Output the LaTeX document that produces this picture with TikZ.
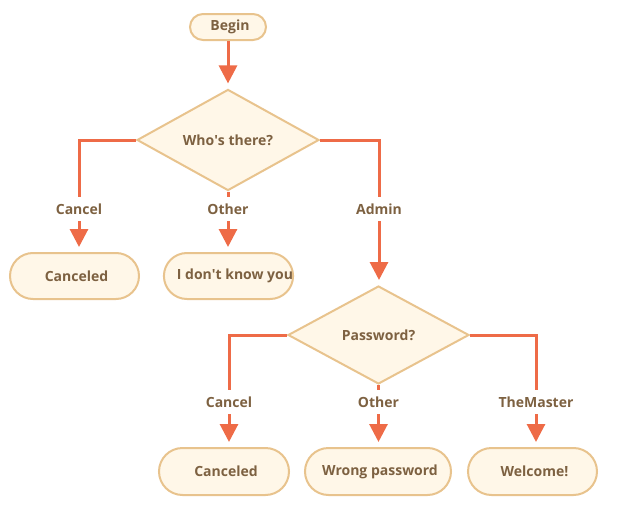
\documentclass[tikz,border=0pt]{standalone}
\usepackage{fontspec}
\setmainfont{Open Sans}
\usetikzlibrary{arrows.meta,shapes.geometric}
\definecolor{ink}{HTML}{7D6141}
\definecolor{rim}{HTML}{E8C38D}
\definecolor{pale}{HTML}{FFF7E8}
\definecolor{wirecol}{HTML}{EE6B47}
\tikzset{
  txt/.style={font=\fontsize{14}{16}\selectfont\bfseries, text=ink},
  term/.style={txt, draw=rim, fill=pale, line width=2pt, inner sep=0pt,
    minimum height=46pt, rounded corners=23pt, execute at begin node=\hspace{4pt}},
  choice/.style={txt, shape=diamond, draw=rim, fill=pale, line width=2pt,
    inner sep=0pt, minimum width=182pt, minimum height=98pt},
  lbl/.style={txt, inner sep=0pt, minimum height=24pt},
  wire/.style={draw=wirecol, line width=3pt},
  go/.style={wire, -{Triangle[width=18pt,length=18pt]}, shorten >=5pt},
}
\begin{document}
\begin{tikzpicture}[x=1pt,y=-1pt]
\useasboundingbox (0,0) rectangle (638,514);

% start
\node[term, minimum width=76pt, minimum height=26pt, rounded corners=13pt,
  execute at begin node={}] (begin) at (228,27) {Begin};

% first question and its answers
\node[choice] (who) at (228,140) {Who\textquotesingle s there?};
\node[term, minimum width=129pt] (cancelA) at (74.5,276) {Canceled};
\node[term, minimum width=129pt, execute at begin node=\hspace{9pt}] (unknown) at (228.5,276) {I don\textquotesingle t know you};

\node[lbl] (lcancelA) at (79,209) {Cancel};
\node[lbl] (lotherA) at (228,209) {Other};
\node[lbl] (ladmin) at (379,209) {Admin};

% second question and its answers
\node[choice, minimum width=181pt] (pw) at (378.5,335) {Password?};
\node[term, minimum width=130pt, minimum height=47pt, rounded corners=23.5pt] (cancelB) at (224,471.5) {Canceled};
\node[term, minimum width=146pt, minimum height=47pt, rounded corners=23.5pt] (wrong) at (378,471.5) {Wrong password};
\node[term, minimum width=129pt, minimum height=47pt, rounded corners=23.5pt] (welcome) at (532.5,471.5) {Welcome!};

\node[lbl] (lcancelB) at (229,402) {Cancel};
\node[lbl] (lotherB) at (378.5,402) {Other};
\node[lbl] (lmaster) at (536,402) {TheMaster};

% connectors
\draw[go] (begin.south) -- (who.north);

\draw[wire] (who.west) -| (lcancelA.north);
\draw[go] (lcancelA.south) -- (lcancelA.south |- cancelA.north);
\draw[wire] (who.south) -- (lotherA.north);
\draw[go] (lotherA.south) -- (lotherA.south |- unknown.north);
\draw[wire] (who.east) -| (ladmin.north);
\draw[go] (ladmin.south) -- (ladmin.south |- pw.north);

\draw[wire] (pw.west) -| (lcancelB.north);
\draw[go] (lcancelB.south) -- (lcancelB.south |- cancelB.north);
\draw[wire] (pw.south) -- (lotherB.north);
\draw[go] (lotherB.south) -- (lotherB.south |- wrong.north);
\draw[wire] (pw.east) -| (lmaster.north);
\draw[go] (lmaster.south) -- (lmaster.south |- welcome.north);
\end{tikzpicture}
\end{document}
